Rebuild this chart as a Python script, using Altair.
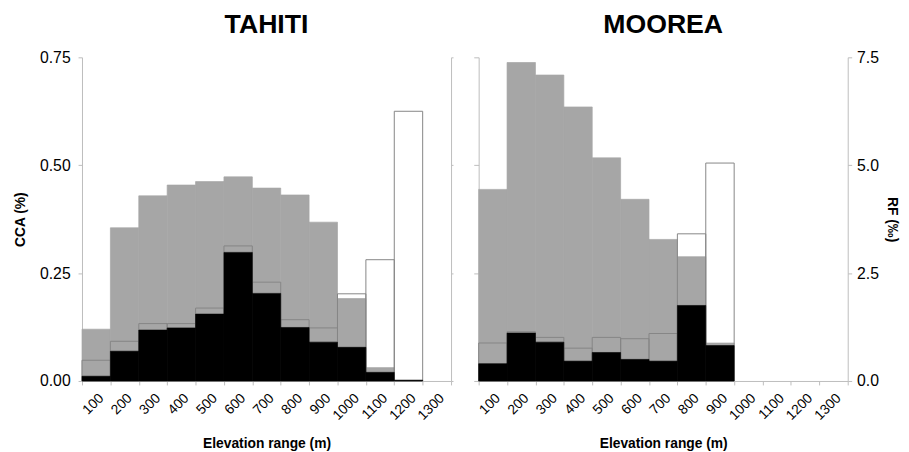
import altair as alt
import pandas as pd

bins = ["100", "200", "300", "400", "500", "600", "700", "800", "900",
        "1000", "1100", "1200", "1300"]

# TAHITI
tahiti_cca = [0.120, 0.355, 0.429, 0.454, 0.462, 0.473, 0.447, 0.431, 0.368,
              0.191, 0.031, 0.0, 0.0]
tahiti_rf_total = [0.48, 0.92, 1.33, 1.33, 1.69, 3.13, 2.29, 1.42, 1.23,
                   2.02, 2.81, 6.25, 0.0]
tahiti_rf_black = [0.11, 0.69, 1.18, 1.23, 1.55, 2.98, 2.03, 1.24, 0.90,
                   0.78, 0.20, 0.02, 0.0]

# MOOREA
moorea_cca = [0.444, 0.738, 0.709, 0.635, 0.517, 0.421, 0.328, 0.288, 0.088,
              0.0, 0.0, 0.0, 0.0]
moorea_rf_total = [0.88, 1.14, 1.01, 0.76, 1.01, 0.98, 1.10, 3.41, 5.05,
                   0.0, 0.0, 0.0, 0.0]
moorea_rf_black = [0.40, 1.11, 0.90, 0.46, 0.66, 0.50, 0.46, 1.75, 0.82,
                   0.0, 0.0, 0.0, 0.0]

AXIS_GRAY = "#bdbdbd"


def panel(name, cca, rf_total, rf_black, left_labels):
    df = pd.DataFrame({"bin": bins, "cca": cca,
                       "rf_total": rf_total, "rf_black": rf_black})
    base = alt.Chart(df)
    xenc = alt.X(
        "bin:N", sort=bins,
        scale=alt.Scale(domain=bins, paddingInner=0, paddingOuter=0),
        axis=alt.Axis(title="Elevation range (m)", labelAngle=-45,
                      tickBand="extent", labelFontSize=14, labelPadding=6,
                      tickSize=4, titlePadding=14),
    )
    if left_labels:
        left_axis = alt.Axis(title="CCA (%)", values=[0, 0.25, 0.5, 0.75],
                             format=".2f", tickSize=4, labelPadding=8,
                             titlePadding=12)
        right_axis = alt.Axis(orient="right", labels=False, title=None,
                              values=[0, 2.5, 5, 7.5], tickSize=2)
    else:
        left_axis = alt.Axis(labels=False, title=None,
                             values=[0, 0.25, 0.5, 0.75], tickSize=5)
        right_axis = alt.Axis(orient="right", title="RF (‰)",
                              values=[0, 2.5, 5, 7.5], format=".1f",
                              tickSize=4, labelPadding=5, titlePadding=6)

    gray = base.transform_filter("datum.cca > 0").mark_bar(
        color="#a6a6a6", stroke="#a6a6a6", strokeWidth=0.7
    ).encode(
        x=xenc,
        y=alt.Y("cca:Q", scale=alt.Scale(domain=[0, 0.75]), axis=left_axis),
    )
    outline = base.transform_filter("datum.rf_total > 0").mark_bar(
        fill="white", fillOpacity=0, stroke="#858585", strokeWidth=1
    ).encode(
        x=xenc,
        y=alt.Y("rf_total:Q", scale=alt.Scale(domain=[0, 7.5]), axis=right_axis),
    )
    black = base.transform_filter("datum.rf_black > 0").mark_bar(
        color="black", stroke="black", strokeWidth=0.6
    ).encode(
        x=xenc,
        y=alt.Y("rf_black:Q", scale=alt.Scale(domain=[0, 7.5]), axis=right_axis),
    )
    rf = alt.layer(outline, black)
    return alt.layer(gray, rf).resolve_scale(y="independent").properties(
        width=374, height=328, title=name
    )


tahiti = panel("TAHITI", tahiti_cca, tahiti_rf_total, tahiti_rf_black, True)
moorea = panel("MOOREA", moorea_cca, moorea_rf_total, moorea_rf_black, False)

chart = alt.hconcat(tahiti, moorea, spacing=19).properties(
    padding={"left": 5, "top": 0, "right": 2, "bottom": 0}
).configure_view(stroke=None).configure_axis(
    grid=False,
    domainColor=AXIS_GRAY,
    tickColor=AXIS_GRAY,
    labelFont="Liberation Sans",
    labelFontSize=16,
    labelColor="black",
    titleFont="Liberation Sans",
    titleFontSize=14,
    titleFontWeight="bold",
    titleColor="black",
).configure_title(
    font="Liberation Sans",
    fontSize=27,
    fontWeight="bold",
    color="black",
    anchor="middle",
    frame="group",
    offset=11,
)

chart.save("out.html", embed_options={"renderer": "svg", "actions": False})
